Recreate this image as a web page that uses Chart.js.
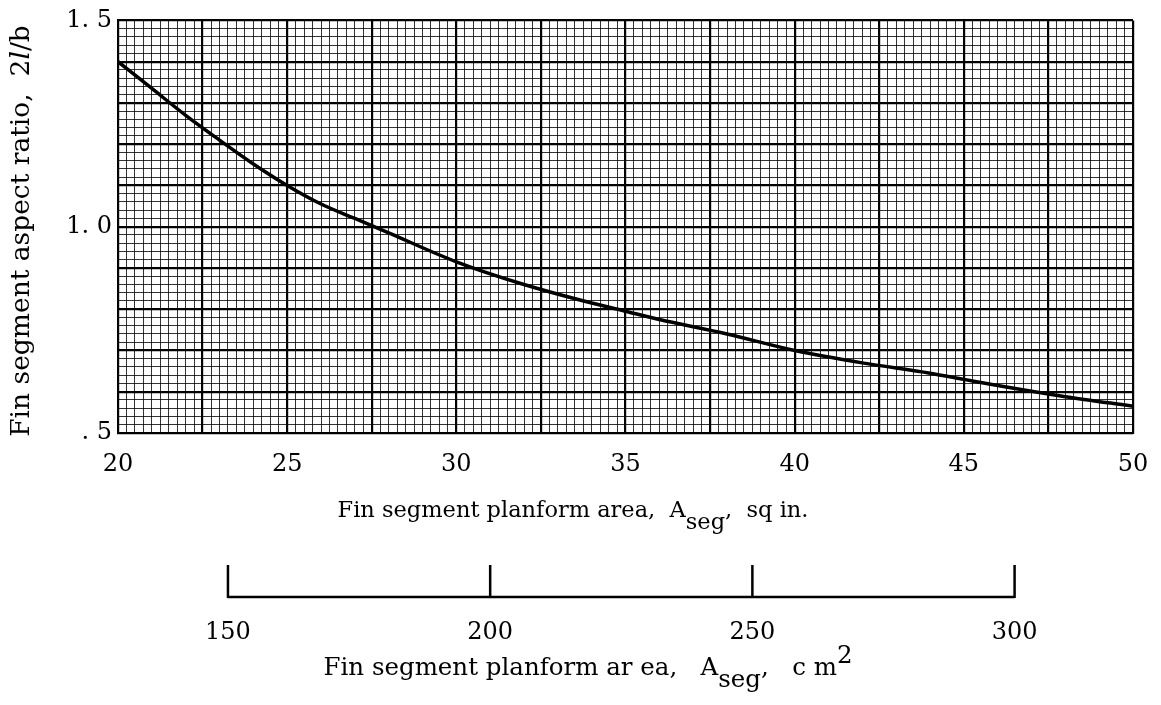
<!DOCTYPE html>
<html>
<head>
<meta charset="utf-8">
<script src="https://cdn.jsdelivr.net/npm/chart.js@4.4.1/dist/chart.umd.min.js"></script>
<style>
  html, body { margin: 0; padding: 0; background: #fff; }
  #wrap { width: 1161px; height: 705px; }
</style>
</head>
<body>
<div id="wrap"><canvas id="myChart"></canvas></div>
<script>
// fin segment planform area (sq in.) and aspect ratio 2l/b
const areaSqIn = [20, 21, 22, 23, 24, 25, 26, 27, 28, 30, 32, 34, 35, 36, 38, 40, 42, 44, 45, 46, 48, 50];
const aspectRatio = [1.40, 1.335, 1.27, 1.21, 1.152, 1.10, 1.055, 1.02, 0.985, 0.915, 0.86, 0.815, 0.795, 0.775, 0.74, 0.70, 0.67, 0.645, 0.63, 0.615, 0.588, 0.565];

// labelled ticks
const xTickValues = [20, 25, 30, 35, 40, 45, 50];
const yTickValues = [0.5, 1.0, 1.5];
const yTickText = ['. 5', '1. 0', '1. 5'];
const cm2Ticks = [150, 200, 250, 300];

const SQIN_TO_CM2 = 6.4516;
const FONT = '"DejaVu Serif", serif';

let ctx = document.getElementById('myChart').getContext('2d');

// draws a line of text made of runs (normal / italic / sub / sup), centred on cx
function drawRuns(c, runs, cx, y, size) {
    const fontOf = r => (r.s === 'i' ? 'italic ' : '') + size + 'px ' + FONT;
    let total = 0;
    runs.forEach(r => { c.font = fontOf(r); total += c.measureText(r.t).width; });
    let x = cx - total / 2;
    runs.forEach(r => {
        c.font = fontOf(r);
        let dy = r.s === 'sub' ? 12 : (r.s === 'sup' ? -12 : 0);
        c.fillText(r.t, x, y + dy);
        x += c.measureText(r.t).width;
    });
}

const titles = {
    id: 'titles',
    afterDraw(chart) {
        const c = chart.ctx;
        const s2 = chart.scales.x2;
        c.save();
        c.fillStyle = '#000';
        c.textAlign = 'left';
        c.textBaseline = 'alphabetic';

        // upper x axis title
        drawRuns(c, [
            { t: 'Fin segment planform area,  A' },
            { t: 'seg', s: 'sub' },
            { t: ',  sq in.' }
        ], 573, 517, 22.5);

        // bracket for the cm^2 scale
        const top = s2.top + 17, base = s2.top + 49;
        const xs = cm2Ticks.map(v => s2.getPixelForValue(v));
        c.strokeStyle = '#000';
        c.lineWidth = 2.5;
        c.beginPath();
        c.moveTo(xs[0], base);
        c.lineTo(xs[xs.length - 1], base);
        xs.forEach(px => { c.moveTo(px, top); c.lineTo(px, base + 1); });
        c.stroke();

        // lower x axis title (set loosely, as printed)
        drawRuns(c, [
            { t: 'Fin segment planform ar ea,   A' },
            { t: 'seg', s: 'sub' },
            { t: ',   c m' },
            { t: '2', s: 'sup' }
        ], 588, 675, 24.5);

        // y axis title
        c.translate(29, 231);
        c.rotate(-Math.PI / 2);
        drawRuns(c, [
            { t: 'Fin segment aspect ratio,  2' },
            { t: 'l', s: 'i' },
            { t: '/b' }
        ], 0, 0, 26.5);
        c.restore();
    }
};

const isMajorX = v => Math.round(v * 4) % 10 === 0;   // every 2.5
const isMajorY = v => Math.round(v * 50) % 5 === 0;   // every 0.1

let chart = new Chart(ctx, {
    type: 'line',
    data: {
        datasets: [{
            data: areaSqIn.map((a, i) => ({ x: a, y: aspectRatio[i] })),
            borderColor: '#000',
            borderWidth: 3.5,
            pointRadius: 0,
            fill: false,
            cubicInterpolationMode: 'monotone'
        }]
    },
    options: {
        responsive: true,
        maintainAspectRatio: false,
        animation: false,
        layout: { padding: { top: 18, right: 0, bottom: 0, left: 0 } },
        plugins: { legend: { display: false }, tooltip: { enabled: false } },
        scales: {
            x: {
                type: 'linear',
                position: 'bottom',
                weight: 0,
                min: 20,
                max: 50,
                afterFit: s => { s.height = 115; s.paddingLeft = 0; s.paddingRight = 28; },
                border: { display: true, color: '#000', width: 2 },
                grid: {
                    drawTicks: false,
                    color: c => isMajorX(c.tick.value) ? '#000' : 'rgba(0,0,0,0.8)',
                    lineWidth: c => isMajorX(c.tick.value) ? 2.2 : 1
                },
                ticks: {
                    stepSize: 0.25,
                    autoSkip: false,
                    maxRotation: 0,
                    padding: 17,
                    color: '#000',
                    font: { family: FONT, size: 24 },
                    callback: v => xTickValues.includes(Math.round(v * 100) / 100) ? String(Math.round(v)) : ''
                }
            },
            x2: {
                type: 'linear',
                position: 'bottom',
                weight: 1,
                min: 20 * SQIN_TO_CM2,
                max: 50 * SQIN_TO_CM2,
                afterFit: s => { s.height = 157; s.paddingLeft = 0; s.paddingRight = 0; },
                afterBuildTicks: s => { s.ticks = cm2Ticks.map(v => ({ value: v })); },
                border: { display: false },
                grid: { display: false, drawTicks: false },
                ticks: {
                    autoSkip: false,
                    maxRotation: 0,
                    padding: 70,
                    color: '#000',
                    font: { family: FONT, size: 24 },
                    callback: v => String(v)
                }
            },
            y: {
                type: 'linear',
                min: 0.5,
                max: 1.5,
                afterFit: s => { s.width = 118; },
                border: { display: true, color: '#000', width: 2 },
                grid: {
                    drawTicks: false,
                    color: c => isMajorY(c.tick.value) ? '#000' : 'rgba(0,0,0,0.8)',
                    lineWidth: c => isMajorY(c.tick.value) ? 2.2 : 1
                },
                ticks: {
                    stepSize: 0.02,
                    autoSkip: false,
                    padding: 6,
                    color: '#000',
                    font: { family: FONT, size: 24 },
                    callback: v => {
                        const i = yTickValues.findIndex(t => Math.abs(t - v) < 1e-6);
                        return i >= 0 ? yTickText[i] : '';
                    }
                }
            }
        }
    },
    plugins: [titles]
});
</script>
</body>
</html>
